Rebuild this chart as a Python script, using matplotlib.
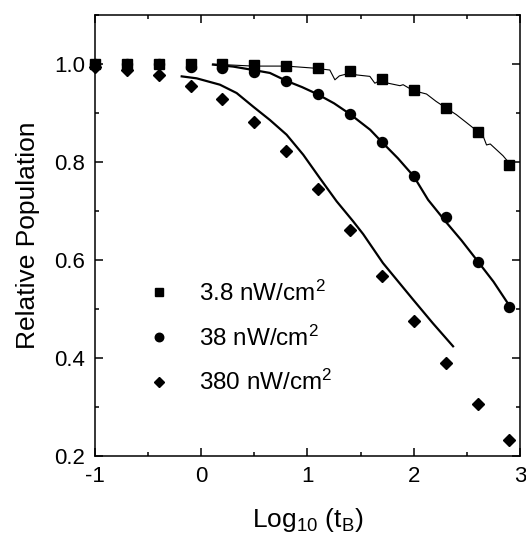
import numpy as np
import matplotlib
matplotlib.use('Agg')
import matplotlib.pyplot as plt
from matplotlib.ticker import MultipleLocator, FormatStrFormatter

plt.rcParams['font.family'] = ['Liberation Sans', 'DejaVu Sans']
plt.rcParams['mathtext.fontset'] = 'custom'
plt.rcParams['mathtext.rm'] = 'Liberation Sans'
plt.rcParams['mathtext.it'] = 'Liberation Sans'
plt.rcParams['axes.unicode_minus'] = False

# measured points (log10 tB vs relative population)
log_t = [-1.0, -0.7, -0.4, -0.1, 0.2, 0.5, 0.8, 1.1, 1.4, 1.7, 2.0, 2.3, 2.6, 2.9]
pop_low = [1.0, 1.0, 1.0, 1.0, 1.0, 0.999, 0.997, 0.992, 0.985, 0.970, 0.947, 0.911, 0.861, 0.795]
pop_mid = [1.0, 1.0, 1.0, 0.995, 0.992, 0.983, 0.966, 0.939, 0.898, 0.841, 0.771, 0.687, 0.597, 0.504]
pop_high = [0.995, 0.988, 0.977, 0.956, 0.928, 0.882, 0.822, 0.746, 0.661, 0.567, 0.476, 0.389, 0.307, 0.233]

# model curves
fit_low_x = [0.11, 0.49, 0.80, 1.05, 1.21, 1.258, 1.30, 1.37, 1.41, 1.46, 1.587, 1.634, 1.70, 1.76,
             1.87, 1.90, 1.995, 2.12, 2.21, 2.30, 2.40, 2.50, 2.61, 2.655, 2.685, 2.72, 2.78, 2.84, 2.91]
fit_low_y = [1.0, 0.996, 0.996, 0.992, 0.988, 0.968, 0.976, 0.980, 0.984, 0.978, 0.975, 0.961, 0.969, 0.961,
             0.956, 0.958, 0.946, 0.939, 0.924, 0.911, 0.897, 0.880, 0.861, 0.852, 0.835, 0.837, 0.825, 0.813, 0.795]
fit_mid_x = [0.11, 0.30, 0.49, 0.646, 0.80, 0.95, 1.09, 1.25, 1.40, 1.59, 1.70, 1.85, 2.0, 2.135, 2.31, 2.45, 2.59, 2.75, 2.90]
fit_mid_y = [0.999, 0.995, 0.988, 0.982, 0.966, 0.953, 0.939, 0.920, 0.898, 0.866, 0.841, 0.808, 0.771, 0.723, 0.676, 0.640, 0.601, 0.556, 0.507]
fit_high_x = [-0.184, -0.043, 0.176, 0.333, 0.49, 0.646, 0.803, 0.96, 1.117, 1.274, 1.43, 1.524, 1.71, 1.995, 2.18, 2.37]
fit_high_y = [0.975, 0.971, 0.958, 0.941, 0.913, 0.886, 0.856, 0.815, 0.767, 0.720, 0.679, 0.653, 0.594, 0.519, 0.471, 0.424]

labels = ['3.8 nW/cm$^2$', '38 nW/cm$^2$', '380 nW/cm$^2$']


def main():
    fig = plt.figure(figsize=(5.26, 5.37), dpi=100)
    ax = fig.add_axes([0.1806, 0.1508, 0.808, 0.821])

    ax.plot(fit_low_x, fit_low_y, 'k-', lw=0.8)
    ax.plot(fit_mid_x, fit_mid_y, 'k-', lw=1.6)
    ax.plot(fit_high_x, fit_high_y, 'k-', lw=1.6)

    ax.plot(log_t, pop_low, 'ks', ms=6.8, ls='none', label=labels[0], clip_on=False)
    ax.plot(log_t, pop_mid, 'ko', ms=7.2, ls='none', label=labels[1], clip_on=False)
    ax.plot(log_t, pop_high, 'kD', ms=6.0, ls='none', label=labels[2], clip_on=False)

    ax.set_xlim(-1, 3)
    ax.set_ylim(0.2, 1.1)
    ax.xaxis.set_major_locator(MultipleLocator(1))
    ax.xaxis.set_minor_locator(MultipleLocator(0.5))
    ax.yaxis.set_major_locator(MultipleLocator(0.2))
    ax.yaxis.set_minor_locator(MultipleLocator(0.1))
    ax.yaxis.set_major_formatter(FormatStrFormatter('%.1f'))
    ax.tick_params(which='both', direction='in', top=True, right=True, width=1.1)
    ax.tick_params(which='major', length=6, labelsize=16, pad=7)
    ax.tick_params(which='minor', length=3)
    for s in ax.spines.values():
        s.set_linewidth(1.1)

    ax.set_xlabel(r'Log$_{10}$ (t$_\mathrm{B}$)', fontsize=19, labelpad=14)
    ax.set_ylabel('Relative Population', fontsize=19, labelpad=10)

    ax.legend(loc='center left', bbox_to_anchor=(0.122, 0.268), frameon=False, fontsize=17.5,
              handlelength=1.0, handletextpad=1.15, borderpad=0, borderaxespad=0,
              labelspacing=0.8, markerscale=0.85)

    fig.savefig('out.png', dpi=100)


if __name__ == '__main__':
    main()
